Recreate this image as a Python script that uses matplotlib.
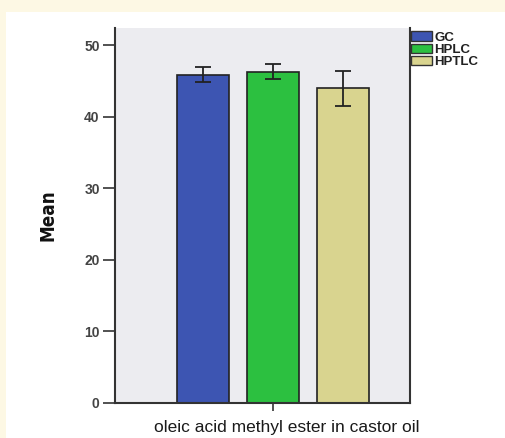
import matplotlib
matplotlib.use("Agg")
import matplotlib.pyplot as plt
import matplotlib.transforms as mtransforms
from matplotlib.patches import Rectangle, Patch

categories = ["GC", "HPLC", "HPTLC"]
means = [45.9, 46.3, 44.0]
errors = [1.05, 1.05, 2.45]
colors = ["#3d55b2", "#2cc040", "#d9d48f"]
xlabel = "oleic acid methyl ester in castor oil"
yticks = [0, 10, 20, 30, 40, 50]

W, H = 506, 438
fig = plt.figure(figsize=(W / 100, H / 100), dpi=100)
fig.patch.set_facecolor("#fdf8e4")
fig.patches.append(Rectangle((6 / W, 0), 1 - 6 / W, 1 - 12 / H, transform=fig.transFigure,
                             facecolor="white", edgecolor="none", zorder=-5))

ax = fig.add_axes([115 / W, 1 - 403 / H, (410 - 115) / W, (403 - 28) / H])
ax.set_zorder(2)
ax.set_facecolor("#ececf0")
pos = [-1, 0, 1]
ax.bar(pos, means, width=0.74, color=colors, edgecolor="#222222", linewidth=1.2, zorder=2)
ax.errorbar(pos, means, yerr=errors, fmt="none", ecolor="#222222", elinewidth=1.3,
            capsize=6, capthick=1.3, zorder=3)
ax.set_xlim(-2.26, 1.96)
ax.set_ylim(0, 52.4)
ax.set_yticks(yticks)
ax.set_xticks([0])
ax.set_xticklabels([xlabel], fontsize=12.5, family="Liberation Sans", color="#1a1a1a")
ax.tick_params(axis="x", length=6, width=1.2, color="#333333", pad=6)
ax.tick_params(axis="y", length=9, width=1.2, color="#333333", labelsize=10, labelcolor="#444444", pad=2)
offset = mtransforms.ScaledTranslation(14 / 100, 0, fig.dpi_scale_trans)
for lab in ax.get_xticklabels():
    lab.set_transform(lab.get_transform() + offset)
for lab in ax.get_yticklabels():
    lab.set_family("Liberation Sans")
    lab.set_fontweight("bold")
ax.spines["top"].set_visible(False)
for s in ["left", "bottom", "right"]:
    ax.spines[s].set_color("#333333")
    ax.spines[s].set_linewidth(1.5)
ax.set_ylabel("Mean", family="DejaVu Sans", stretch="condensed", fontweight="bold",
              fontsize=13.5, color="#111111", labelpad=19)

handles = [Patch(facecolor=c, edgecolor="#333333", linewidth=1) for c in colors]
leg = fig.legend(handles, categories, loc="upper left", bbox_to_anchor=(410 / W, 1 - 30 / H),
                 frameon=False, handlelength=1.6, handleheight=0.7, handletextpad=0.15,
                 labelspacing=0.0, borderaxespad=0, borderpad=0.1,
                 prop={"family": "Liberation Sans", "weight": "bold", "size": 9.5})
leg.set_zorder(3)
for t in leg.get_texts():
    t.set_color("#222222")

fig.savefig("out.png", dpi=100, facecolor=fig.get_facecolor())
